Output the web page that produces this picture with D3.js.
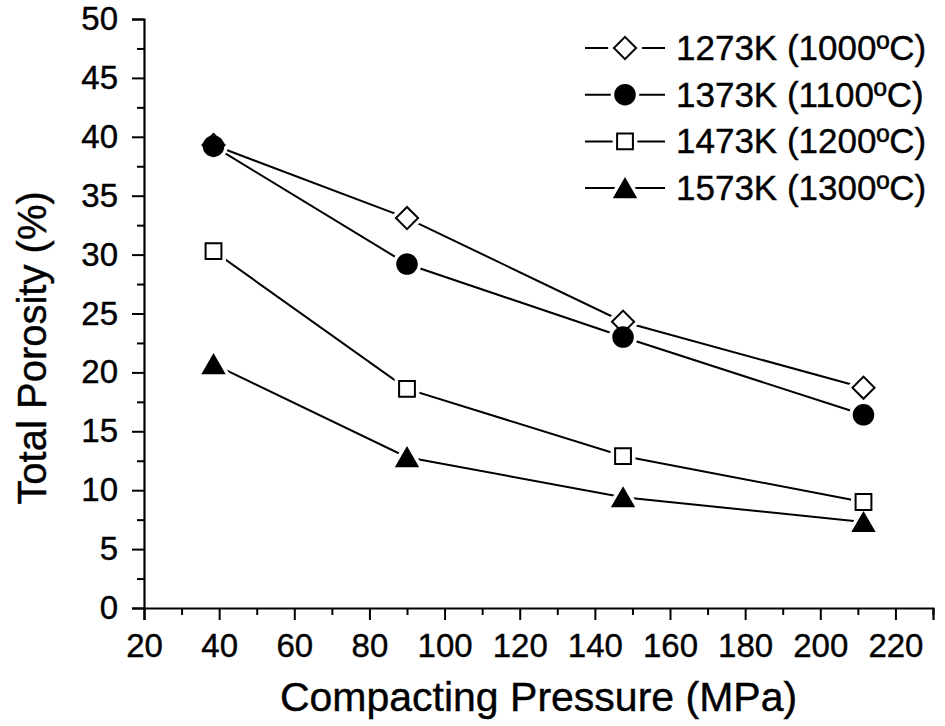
<!DOCTYPE html>
<html>
<head>
<meta charset="utf-8">
<script src="https://cdn.jsdelivr.net/npm/d3@7"></script>
<style>
  body { margin: 0; background: #fff; }
  svg { display: block; font-family: Arial, "Liberation Sans", Helvetica, sans-serif; }
</style>
</head>
<body>
<div id="chart"></div>
<script>
// values
const pressures = [38.5, 90, 147.5, 211.5];
const seriesNames = ["1273K (1000ºC)", "1373K (1100ºC)", "1473K (1200ºC)", "1573K (1300ºC)"];
const porosity1273 = [39.3, 33.1, 24.3, 18.7];
const porosity1373 = [39.2, 29.2, 23.0, 16.4];
const porosity1473 = [30.3, 18.6, 12.9, 9.0];
const porosity1573 = [20.7, 12.8, 9.4, 7.3];
const xTicks = [20, 40, 60, 80, 100, 120, 140, 160, 180, 200, 220];
const yTicks = [0, 5, 10, 15, 20, 25, 30, 35, 40, 45, 50];

const W = 945, H = 726;
const margin = { top: 19, right: 12, bottom: 118, left: 144 };
const width = W - margin.left - margin.right;
const height = H - margin.top - margin.bottom;

const svg = d3.select("#chart")
    .append("svg")
    .attr("width", W)
    .attr("height", H);

const g = svg.append("g")
    .attr("transform", `translate(${margin.left},${margin.top})`);

const x = d3.scaleLinear().domain([20, 230]).range([0, width]);
const y = d3.scaleLinear().domain([0, 50]).range([height, 0]);

// --- axes ---
g.append("g")
    .attr("transform", `translate(0,${height})`)
    .call(d3.axisBottom(x).tickValues(xTicks).tickSize(12).tickPadding(14).tickFormat(d3.format("d")));
g.append("g")
    .attr("transform", `translate(0,${height})`)
    .call(d3.axisBottom(x).tickValues(d3.range(30, 231, 20)).tickSize(7).tickFormat(""))
    .select(".domain").remove();

g.append("g")
    .call(d3.axisLeft(y).tickValues(yTicks).tickSize(12).tickPadding(14).tickFormat(d3.format("d")));
g.append("g")
    .call(d3.axisLeft(y).tickValues(d3.range(2.5, 50, 5)).tickSize(7).tickFormat(""))
    .select(".domain").remove();

g.selectAll(".domain").attr("stroke", "#000").attr("stroke-width", 2.2);
g.selectAll(".tick line").attr("stroke", "#000").attr("stroke-width", 2);
g.selectAll(".tick text")
    .attr("font-size", "33px")
    .attr("fill", "#000")
    .attr("stroke", "#000")
    .attr("stroke-width", 0.4);

// axis titles
svg.append("text")
    .attr("x", margin.left + x(125))
    .attr("y", 711)
    .attr("text-anchor", "middle")
    .attr("font-size", "41px")
    .attr("stroke", "#000")
    .attr("stroke-width", 0.4)
    .text("Compacting Pressure (MPa)");

svg.append("text")
    .attr("transform", `translate(46,${margin.top + y(22.5) + 5}) rotate(-90)`)
    .attr("text-anchor", "middle")
    .attr("font-size", "40px")
    .attr("stroke", "#000")
    .attr("stroke-width", 0.4)
    .text("Total Porosity (%)");

// --- series ---
const series = [
    { name: seriesNames[0], values: porosity1273, shape: "diamond", fill: "#fff" },
    { name: seriesNames[1], values: porosity1373, shape: "circle", fill: "#000" },
    { name: seriesNames[2], values: porosity1473, shape: "square", fill: "#fff" },
    { name: seriesNames[3], values: porosity1573, shape: "triangle", fill: "#000" }
];

function marker(sel, shape, fill, halo) {
    let path, tf = "";
    if (shape === "diamond") { path = d3.symbol(d3.symbolSquare, 245)(); tf = "rotate(45)"; }
    if (shape === "circle") path = d3.symbol(d3.symbolCircle, 300)();
    if (shape === "square") path = d3.symbol(d3.symbolSquare, 250)();
    if (shape === "triangle") { path = d3.symbol(d3.symbolTriangle, 190)(); tf = "translate(0,3)"; }
    sel.append("path")
        .attr("d", path)
        .attr("transform", tf)
        .attr("fill", halo ? "#fff" : fill)
        .attr("stroke", halo ? "#fff" : "#000")
        .attr("stroke-width", halo ? 9 : 2);
}

const line = d3.line()
    .x((d, i) => x(pressures[i]))
    .y(d => y(d));

series.forEach(s => {
    g.append("path")
        .datum(s.values)
        .attr("fill", "none")
        .attr("stroke", "#000")
        .attr("stroke-width", 2)
        .attr("d", line);
});

// halos first so lines stop short of markers, then markers
[true, false].forEach(halo => {
    series.forEach(s => {
        g.selectAll(null)
            .data(s.values)
            .enter()
            .append("g")
            .attr("transform", (d, i) => `translate(${x(pressures[i])},${y(d)})`)
            .each(function() { marker(d3.select(this), s.shape, s.fill, halo); });
    });
});

// --- legend ---
const legend = svg.append("g").attr("transform", "translate(585,48)");
series.forEach((s, i) => {
    const row = legend.append("g").attr("transform", `translate(0,${i * 46.7})`);
    row.append("line")
        .attr("x1", 0).attr("x2", 80)
        .attr("stroke", "#000").attr("stroke-width", 2);
    [true, false].forEach(halo => {
        const m = row.append("g").attr("transform", "translate(40,0)");
        marker(m, s.shape, s.fill, halo);
    });
    row.append("text")
        .attr("x", 91)
        .attr("y", 12)
        .attr("font-size", "35px")
        .attr("stroke", "#000")
        .attr("stroke-width", 0.4)
        .text(s.name);
});
</script>
</body>
</html>
